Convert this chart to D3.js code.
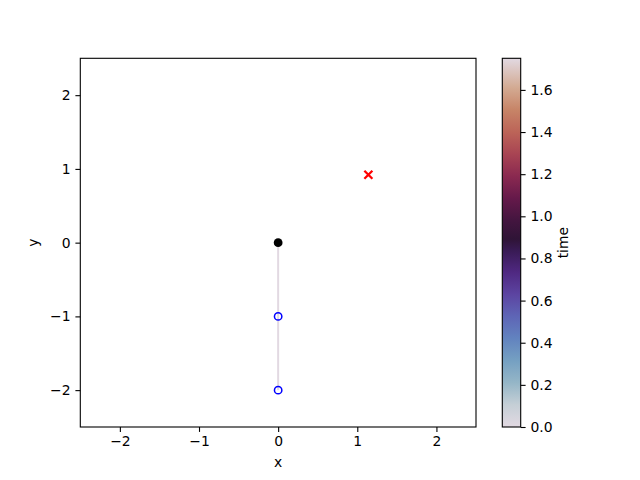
<!DOCTYPE html>
<html>
<head>
<meta charset="utf-8">
<script src="https://cdn.jsdelivr.net/npm/d3@7"></script>
<style>
	body { margin: 0; background: #fff; }
	svg text { font-family: "DejaVu Sans", sans-serif; font-size: 13.9px; fill: #000; }
	.axis path, .axis line { stroke: #000; stroke-width: 1.1px; }
</style>
</head>
<body>
<div id="graphic"></div>
<script>
// axis ranges and ticks
const xDomain = [-2.5, 2.5];
const yDomain = [-2.5, 2.5];
const xTicks = [-2, -1, 0, 1, 2];
const yTicks = [-2, -1, 0, 1, 2];

// trajectory: start point, then visited points
const startPoint = { x: 0, y: 0 };
const visitedX = [0, 0];
const visitedY = [-1, -2];
const pathX = [0, 0, 0];
const pathY = [0, -1, -2];
const pathTime = [0, 0, 0];

// goal marker
const goalPoint = { x: 1.14, y: 0.92 };

// colorbar
const timeDomain = [0, 1.75];
const timeTicks = [0, 0.2, 0.4, 0.6, 0.8, 1.0, 1.2, 1.4, 1.6];

// approximation of the "twilight" colormap
const twilightStops = [0, 0.06, 0.12, 0.18, 0.24, 0.30, 0.36, 0.42, 0.48, 0.51, 0.56, 0.62, 0.68, 0.74, 0.80, 0.86, 0.92, 1];
const twilightColors = ['#e2d9e2', '#c5cfd6', '#95b6c7', '#75a0c2', '#6283bf', '#5e65b6', '#5c44a1', '#4f2881', '#381a53', '#2f1436', '#43153f', '#65194a', '#8a2950', '#a84453', '#bc6458', '#c78467', '#d3aa92', '#e2d9e2'];

const width = 640, height = 480;
const plot = { left: 80.3, right: 476, top: 58.3, bottom: 427 };
const cbar = { left: 502.3, right: 520.7, top: 58.3, bottom: 427 };

const fmt = (d) => d < 0 ? '\u2212' + Math.abs(d) : String(d);

const svg = d3.select('#graphic').append('svg')
	.attr('width', width)
	.attr('height', height);

const x = d3.scaleLinear().domain(xDomain).range([plot.left, plot.right]);
const y = d3.scaleLinear().domain(yDomain).range([plot.bottom, plot.top]);
const tNorm = d3.scaleLinear().domain(timeDomain).range([0, 1]);
const twilight = d3.scaleLinear().domain(twilightStops).range(twilightColors).interpolate(d3.interpolateRgb);
const colour = (t) => twilight(tNorm(t));

// path line between points
const line = d3.line().x((d, i) => x(pathX[i])).y((d, i) => y(pathY[i]));
svg.append('path')
	.attr('d', line(pathX))
	.attr('fill', 'none')
	.attr('stroke', colour(d3.mean(pathTime)))
	.attr('stroke-width', 2);

// start point
svg.append('circle')
	.attr('cx', x(startPoint.x))
	.attr('cy', y(startPoint.y))
	.attr('r', 4.4)
	.attr('fill', '#000');

// visited points, hollow blue
svg.append('g')
	.selectAll('circle')
	.data(visitedX)
	.join('circle')
	.attr('cx', (d) => x(d))
	.attr('cy', (d, i) => y(visitedY[i]))
	.attr('r', 3.7)
	.attr('fill', 'none')
	.attr('stroke', '#0000ff')
	.attr('stroke-width', 1.5);

// goal cross
const gx = x(goalPoint.x), gy = y(goalPoint.y), s = 4;
svg.append('path')
	.attr('d', `M${gx - s},${gy - s}L${gx + s},${gy + s}M${gx - s},${gy + s}L${gx + s},${gy - s}`)
	.attr('stroke', '#ff0000')
	.attr('stroke-width', 2.3);

// axes
svg.append('g')
	.attr('class', 'axis')
	.attr('transform', 'translate(0,' + plot.bottom + ')')
	.call(d3.axisBottom(x).tickValues(xTicks).tickFormat(fmt).tickSize(4.9).tickPadding(4.4).tickSizeOuter(0))
	.call((g) => g.select('.domain').remove())
	.selectAll('text').style('font-size', '13.9px').attr('font-family', 'DejaVu Sans');

svg.append('g')
	.attr('class', 'axis')
	.attr('transform', 'translate(' + plot.left + ',0)')
	.call(d3.axisLeft(y).tickValues(yTicks).tickFormat(fmt).tickSize(4.9).tickPadding(4.9).tickSizeOuter(0))
	.call((g) => g.select('.domain').remove())
	.selectAll('text').style('font-size', '13.9px').attr('font-family', 'DejaVu Sans');

// plot frame
svg.append('rect')
	.attr('x', plot.left)
	.attr('y', plot.top)
	.attr('width', plot.right - plot.left)
	.attr('height', plot.bottom - plot.top)
	.attr('fill', 'none')
	.attr('stroke', '#000')
	.attr('stroke-width', 1.1);

// axis labels
svg.append('text')
	.attr('x', (plot.left + plot.right) / 2)
	.attr('y', 466.5)
	.attr('text-anchor', 'middle')
	.text('x');

svg.append('text')
	.attr('transform', 'translate(37.5,' + (plot.top + plot.bottom) / 2 + ') rotate(-90)')
	.attr('text-anchor', 'middle')
	.text('y');

// colorbar
const defs = svg.append('defs');
const grad = defs.append('linearGradient')
	.attr('id', 'cbarGrad')
	.attr('x1', 0).attr('y1', 1).attr('x2', 0).attr('y2', 0);
grad.selectAll('stop')
	.data(twilightStops)
	.join('stop')
	.attr('offset', (d) => d)
	.attr('stop-color', (d, i) => twilightColors[i]);

svg.append('rect')
	.attr('x', cbar.left)
	.attr('y', cbar.top)
	.attr('width', cbar.right - cbar.left)
	.attr('height', cbar.bottom - cbar.top)
	.attr('fill', 'url(#cbarGrad)')
	.attr('stroke', '#000')
	.attr('stroke-width', 1.1);

const cy = d3.scaleLinear().domain(timeDomain).range([cbar.bottom, cbar.top]);
svg.append('g')
	.attr('class', 'axis')
	.attr('transform', 'translate(' + cbar.right + ',0)')
	.call(d3.axisRight(cy).tickValues(timeTicks).tickFormat(d3.format('.1f')).tickSize(4.9).tickPadding(4.9).tickSizeOuter(0))
	.call((g) => g.select('.domain').remove())
	.selectAll('text').style('font-size', '13.9px').attr('font-family', 'DejaVu Sans');

svg.append('text')
	.attr('transform', 'translate(568,' + (cbar.top + cbar.bottom) / 2 + ') rotate(-90)')
	.attr('text-anchor', 'middle')
	.text('time');
</script>
</body>
</html>
